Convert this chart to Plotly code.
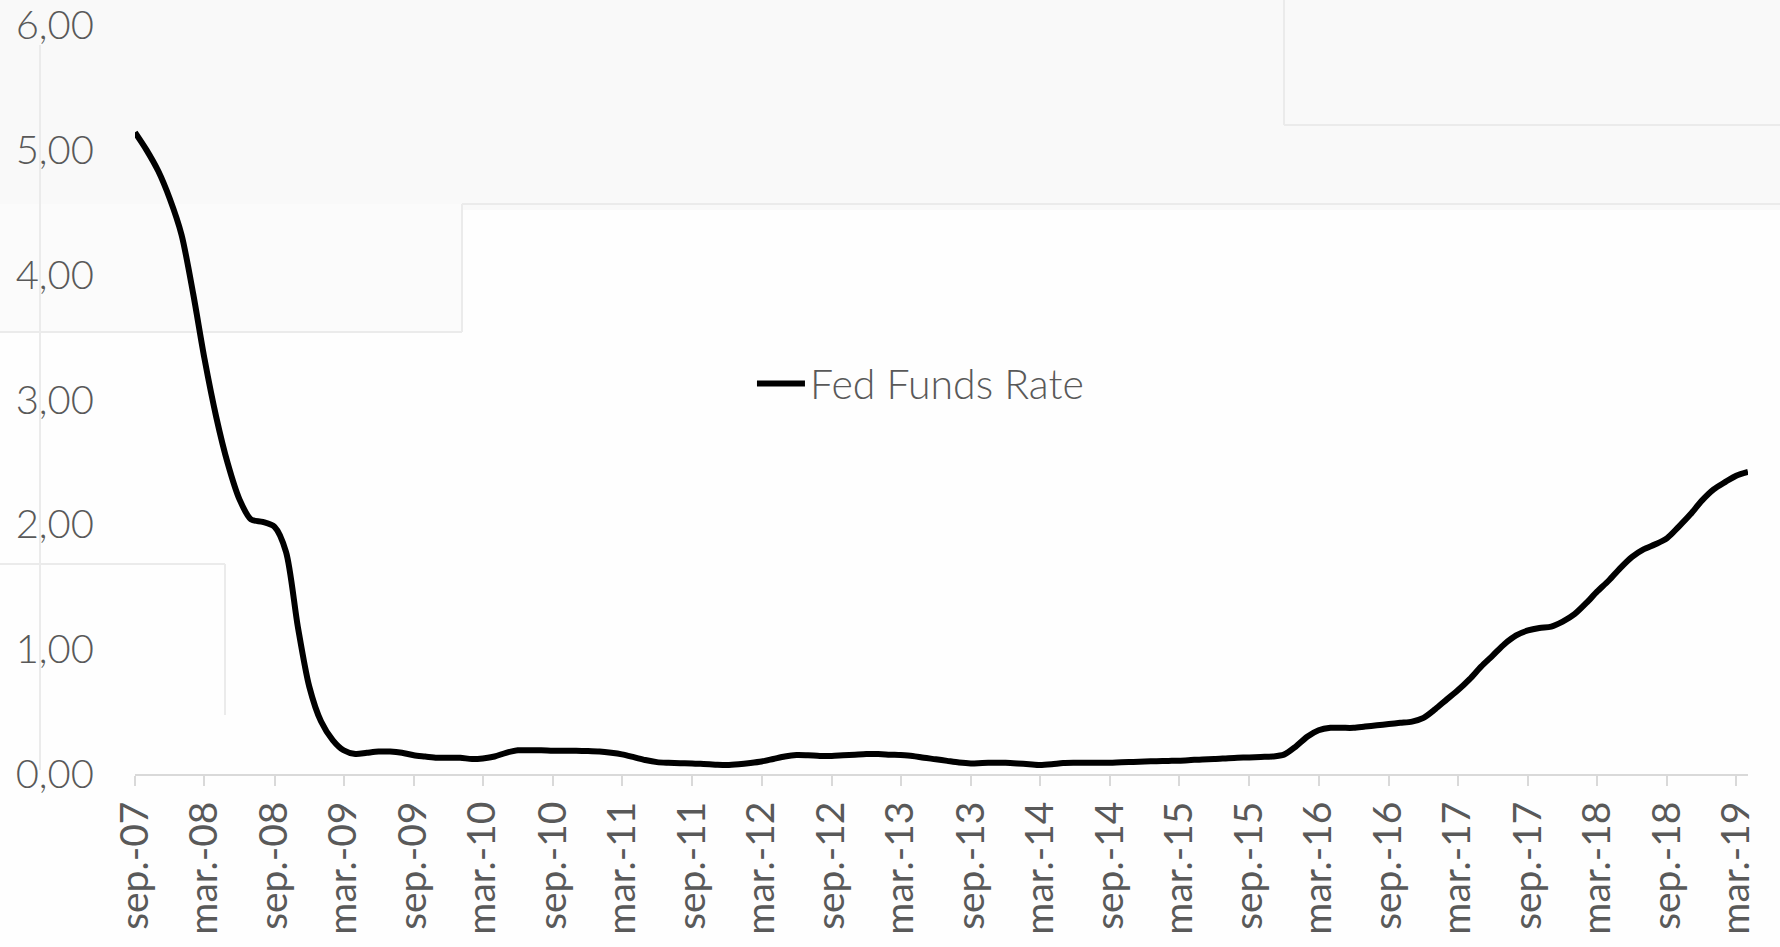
import plotly.graph_objects as go
import pandas as pd

# ---- data (monthly, Sep 2007 - Apr 2019) ----
start_month = "2007-09-01"
fed_funds_rate = [
    5.14, 5.00, 4.83, 4.61, 4.32, 3.84, 3.33, 2.86, 2.49, 2.20, 2.04, 2.02,   # sep07-aug08
    1.98, 1.78, 1.18, 0.70, 0.42, 0.27, 0.19, 0.16, 0.17, 0.18, 0.18, 0.17,   # sep08-aug09
    0.15, 0.14, 0.13, 0.13, 0.13, 0.12, 0.125, 0.14, 0.17, 0.19, 0.19, 0.19,  # sep09-aug10
    0.187, 0.187, 0.186, 0.184, 0.18, 0.17, 0.157, 0.135, 0.112, 0.095, 0.09, 0.087,  # sep10-aug11
    0.085, 0.08, 0.075, 0.072, 0.078, 0.088, 0.10, 0.12, 0.14, 0.152, 0.15, 0.145,  # sep11-aug12
    0.144, 0.15, 0.155, 0.16, 0.16, 0.155, 0.152, 0.145, 0.13, 0.118, 0.105, 0.092,  # sep12-aug13
    0.085, 0.088, 0.09, 0.09, 0.085, 0.078, 0.072, 0.078, 0.088, 0.09, 0.09, 0.09,  # sep13-aug14
    0.09, 0.095, 0.097, 0.10, 0.103, 0.105, 0.107, 0.112, 0.117, 0.12, 0.125, 0.13,  # sep14-aug15
    0.133, 0.137, 0.14, 0.155, 0.22, 0.30, 0.35, 0.37, 0.37, 0.37, 0.38, 0.39,  # sep15-aug16
    0.40, 0.41, 0.42, 0.45, 0.52, 0.60, 0.67, 0.76, 0.86, 0.95, 1.04, 1.11,   # sep16-aug17
    1.15, 1.17, 1.18, 1.22, 1.28, 1.37, 1.46, 1.55, 1.65, 1.74, 1.80, 1.84,   # sep17-aug18
    1.89, 1.98, 2.08, 2.19, 2.28, 2.34, 2.39, 2.42,                           # sep18-apr19
]
series_name = "Fed Funds Rate"

x_tick_labels = [
    "sep.-07", "mar.-08", "sep.-08", "mar.-09", "sep.-09", "mar.-10", "sep.-10",
    "mar.-11", "sep.-11", "mar.-12", "sep.-12", "mar.-13", "sep.-13", "mar.-14",
    "sep.-14", "mar.-15", "sep.-15", "mar.-16", "sep.-16", "mar.-17", "sep.-17",
    "mar.-18", "sep.-18", "mar.-19",
]
y_tick_values = [0, 1, 2, 3, 4, 5, 6]
y_tick_labels = ["0,00", "1,00", "2,00", "3,00", "4,00", "5,00", "6,00"]

dates = pd.date_range(start_month, periods=len(fed_funds_rate), freq="MS")
x_tick_values = pd.date_range(start_month, periods=len(x_tick_labels), freq="6MS")

# ---- figure ----
W, H = 1780, 947
ML, MR, MT, MB = 135, 32, 25, 173
FONT = "Lato"
GREY = "#595959"
AXIS = "#d9d9d9"

fig = go.Figure()
fig.add_trace(go.Scatter(
    x=dates, y=fed_funds_rate, name=series_name, mode="lines",
    line=dict(color="#000000", width=6, shape="spline", smoothing=0.8),
    showlegend=True,
))

# faint background artefacts of the original picture (decoration only)
pw, ph = W - ML - MR, H - MT - MB
def px(xp):
    return (xp - ML) / pw
def py(yp):
    return (H - MB - yp) / ph

shapes = [
    dict(type="rect", xref="paper", yref="paper", x0=px(0), x1=px(W), y0=py(0), y1=py(210),
         fillcolor="#f9f9f9", line=dict(width=0), layer="below"),
    dict(type="rect", xref="paper", yref="paper", x0=px(0), x1=px(462), y0=py(204), y1=py(332),
         fillcolor="#fbfbfb", line=dict(width=0), layer="below"),
]
line_segs = [
    (0, 332, 462, 332), (462, 332, 462, 204), (462, 204, W, 204),
    (1284, 0, 1284, 125), (1284, 125, W, 125),
    (0, 564, 225, 564), (225, 564, 225, 715),
    (40, 45, 40, 770),
]
for x0, y0, x1, y1 in line_segs:
    shapes.append(dict(type="line", xref="paper", yref="paper",
                       x0=px(x0), x1=px(x1), y0=py(y0), y1=py(y1),
                       line=dict(color="#ebebeb", width=2), layer="below"))

fig.update_layout(
    width=W, height=H,
    margin=dict(l=ML, r=MR, t=MT, b=MB, pad=0, autoexpand=False),
    paper_bgcolor="#fefefe",
    plot_bgcolor="rgba(0,0,0,0)",
    font=dict(family=FONT, color=GREY, weight=300),
    shapes=shapes,
    showlegend=True,
    legend=dict(
        x=0.3825, y=0.521, xanchor="left", yanchor="middle",
        bgcolor="rgba(0,0,0,0)", font=dict(size=41, color=GREY, family=FONT, weight=300),
        itemwidth=48,
    ),
    xaxis=dict(
        type="date",
        range=[dates[0], dates[-1]],
        tickvals=x_tick_values, ticktext=x_tick_labels,
        tickangle=-90,
        tickfont=dict(size=39, color=GREY, family=FONT, weight=400),
        ticks="outside", ticklen=10, tickwidth=2, tickcolor=AXIS,
        showline=True, linecolor=AXIS, linewidth=2,
        showgrid=False, zeroline=False, automargin=False,
        ticklabelstandoff=0, ticklabeloverflow="allow",
    ),
    yaxis=dict(
        range=[0, 6],
        tickvals=y_tick_values, ticktext=y_tick_labels,
        tickfont=dict(size=40, color=GREY, family=FONT, weight=300),
        showline=False, showgrid=False, zeroline=False, ticks="",
        automargin=False,
        ticklabelstandoff=40, ticklabeloverflow="allow",
    ),
)

fig.write_html(
    "out.html",
    config={"displayModeBar": False},
    post_script="document.body.style.margin='0';document.body.style.background='#fefefe';",
)
